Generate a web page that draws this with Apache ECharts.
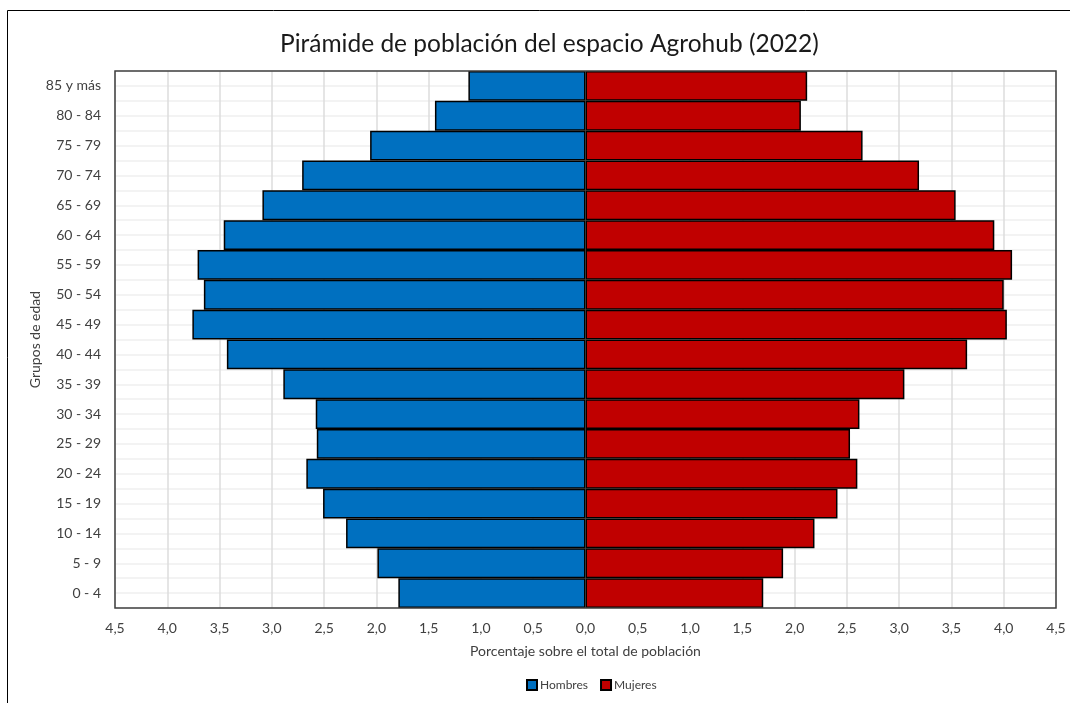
<!DOCTYPE html>
<html>
<head>
<meta charset="utf-8">
<script src="https://cdn.jsdelivr.net/npm/echarts@6/dist/echarts.min.js"></script>
<style>
  html, body { margin: 0; padding: 0; background: #fff; }
  #chart { width: 1070px; height: 703px; }
</style>
</head>
<body>
<div id="chart"></div>
<script>
// grupos de edad, de abajo arriba
const grupos = ['0 - 4', '5 - 9', '10 - 14', '15 - 19', '20 - 24', '25 - 29', '30 - 34', '35 - 39',
  '40 - 44', '45 - 49', '50 - 54', '55 - 59', '60 - 64', '65 - 69', '70 - 74', '75 - 79', '80 - 84', '85 y más'];

// % sobre el total
const hombres = [1.79, 1.99, 2.29, 2.51, 2.67, 2.57, 2.58, 2.89, 3.43, 3.76, 3.65, 3.71, 3.46, 3.09, 2.71, 2.06, 1.44, 1.12];
const mujeres = [1.70, 1.89, 2.19, 2.41, 2.60, 2.53, 2.62, 3.05, 3.65, 4.03, 4.00, 4.08, 3.91, 3.54, 3.19, 2.65, 2.06, 2.12];

const fmt = v => Math.abs(v).toFixed(1).replace('.', ',');
const font = 'Lato';

const myChart = echarts.init(document.getElementById('chart'));

const option = {
  animation: false,
  textStyle: { fontFamily: font },
  title: {
    text: 'Pirámide de población del espacio Agrohub (2022)',
    left: 275,
    top: 27,
    textStyle: { fontFamily: font, fontSize: 24.5, fontWeight: 'normal', color: '#1a1a1a' }
  },
  graphic: [{
    // marco exterior
    type: 'rect',
    shape: { x: 7.5, y: 10.5, width: 1200, height: 900 },
    style: { fill: 'none', stroke: '#000', lineWidth: 1 },
    silent: true
  }, {
    // borde del área de trazado
    type: 'rect',
    z: 100,
    shape: { x: 115, y: 71, width: 941, height: 537 },
    style: { fill: 'none', stroke: '#404040', lineWidth: 1.5 },
    silent: true
  }],
  legend: {
    data: ['Hombres', 'Mujeres'],
    top: 674,
    left: 521,
    itemWidth: 10,
    itemHeight: 10,
    itemGap: 12,
    icon: 'rect',
    textStyle: { fontFamily: font, fontSize: 12, color: '#404040', padding: [0, 0, 0, -2] }
  },
  grid: {
    left: 115, right: 14, top: 71, bottom: 95
  },
  xAxis: {
    type: 'value',
    min: -4.5, max: 4.5, interval: 0.5,
    name: 'Porcentaje sobre el total de población',
    nameLocation: 'middle',
    nameGap: 36,
    nameTextStyle: { fontFamily: font, fontSize: 14, color: '#404040' },
    axisLine: { show: false },
    axisTick: { show: false },
    axisLabel: { formatter: fmt, fontFamily: font, fontSize: 14, color: '#404040', margin: 13 },
    splitLine: { show: true, lineStyle: { color: '#dcdcdc', width: 1.5 } }
  },
  yAxis: [{
    type: 'category',
    data: grupos,
    name: 'Grupos de edad',
    nameLocation: 'middle',
    nameGap: 73,
    nameRotate: 90,
    nameMoveOverlap: false,
    nameTextStyle: { fontFamily: font, fontSize: 14, color: '#404040' },
    axisLine: { show: false },
    axisTick: { show: false },
    axisLabel: { fontFamily: font, fontSize: 14, color: '#404040', margin: 14 },
    splitLine: { show: false }
  }, {
    type: 'value',
    min: 0, max: 18, interval: 0.5,
    axisLine: { show: false },
    axisTick: { show: false },
    axisLabel: { show: false },
    splitLine: { show: true, lineStyle: { color: '#efefef', width: 1.5 } }
  }],
  series: [{
    name: 'Hombres',
    type: 'bar',
    stack: 'pir',
    yAxisIndex: 0,
    barCategoryGap: 0,
    data: hombres.map(v => -v),
    itemStyle: { color: '#0070C0', borderColor: '#000', borderWidth: 1.5 }
  }, {
    name: 'Mujeres',
    type: 'bar',
    stack: 'pir',
    yAxisIndex: 0,
    barCategoryGap: 0,
    data: mujeres,
    itemStyle: { color: '#C00000', borderColor: '#000', borderWidth: 1.5 }
  }]
};

myChart.setOption(option);
</script>
</body>
</html>
